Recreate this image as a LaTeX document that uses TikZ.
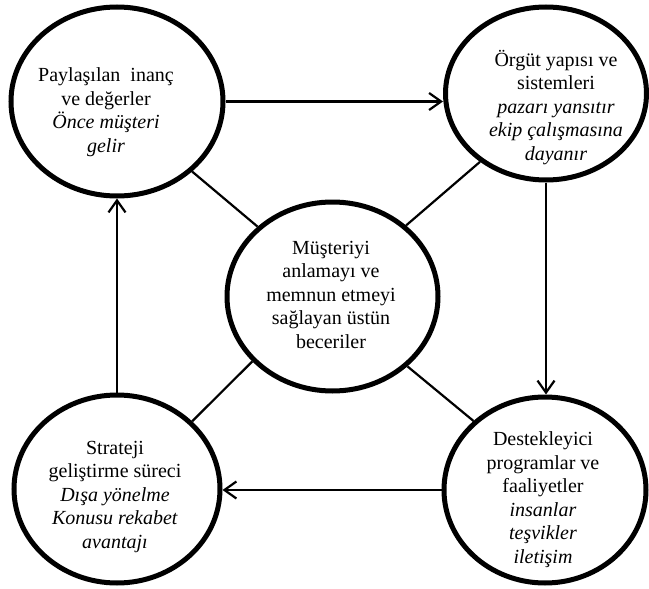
\documentclass[tikz,border=0pt]{standalone}
\usepackage{fontspec}
\setmainfont{Liberation Serif}
\usetikzlibrary{shapes.geometric,arrows.meta}

\tikzset{
  bubble/.style={draw, ellipse, line width=5pt, inner sep=0pt},
  % base anchor of a multi-line node sits on the last line
  bubbletext/.style={align=center, inner sep=0pt, anchor=base,
    font=\fontsize{20}{23.5}\selectfont},
  flow/.style={line width=2.2pt, -{Straight Barb[length=12pt,width=17pt,line width=2.2pt]}},
  link/.style={line width=2.2pt},
}

\begin{document}
\begin{tikzpicture}[x=1pt, y=-1pt]
  \useasboundingbox (0,0) rectangle (649,589);

  % the five ellipses
  \node[bubble, minimum width=212pt, minimum height=189pt] (tl) at (117,101.5) {};
  \node[bubble, minimum width=201pt, minimum height=173pt] (tr) at (546,93.5) {};
  \node[bubble, minimum width=211pt, minimum height=189pt] (c)  at (332.5,296.5) {};
  \node[bubble, minimum width=206pt, minimum height=188pt] (bl) at (117,489) {};
  \node[bubble, minimum width=202pt, minimum height=186pt] (br) at (545,490) {};

  % texts inside the ellipses
  \node[bubbletext] (tltext) at (106,152) {Paylaşılan\ \ inanç\\ve değerler\\\textit{Önce müşteri}\\\textit{gelir}};
  \node[bubbletext] (trtext) at (556,160) {Örgüt yapısı ve\\sistemleri\\\textit{pazarı yansıtır}\\\textit{ekip çalışmasına}\\\textit{dayanır}};
  \node[bubbletext] (ctext)  at (331,348) {Müşteriyi\\anlamayı ve\\memnun etmeyi\\sağlayan üstün\\beceriler};
  \node[bubbletext] (bltext) at (115,548) {Strateji\\geliştirme süreci\\\textit{Dışa yönelme}\\\textit{Konusu rekabet}\\\textit{avantajı}};
  \node[bubbletext] (brtext) at (543,563) {Destekleyici\\programlar ve\\faaliyetler\\\textit{insanlar}\\\textit{teşvikler}\\\textit{iletişim}};

  % the cycle around the outside
  \draw[flow] (tl.east) -- (tl.east -| tr.west);
  \draw[flow] (tr.south) -- (tr.south |- br.north);
  \draw[flow] (br.west) -- (br.west -| bl.east);
  \draw[flow] (bl.north) -- (bl.north |- tl.south);

  % links to the centre
  \draw[link] (tl.317.6) -- (c.137.3);
  \draw[link] (tr.226.5) -- (c.44.6);
  \draw[link] (bl.42.2) -- (c.219.9);
  \draw[link] (br.136.6) -- (c.317.8);
\end{tikzpicture}
\end{document}
